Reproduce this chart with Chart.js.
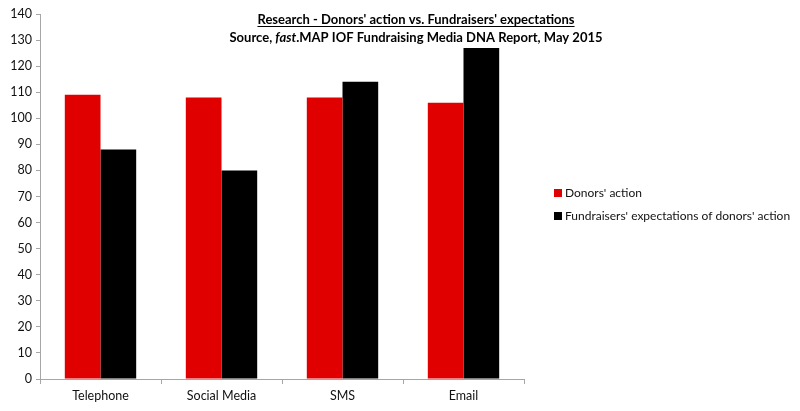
<!DOCTYPE html>
<html>
<head>
<meta charset="utf-8">
<script src="https://cdn.jsdelivr.net/npm/chart.js@4/dist/chart.umd.min.js"></script>
<style>
  body { margin: 0; background: #fff; }
  canvas { display: block; }
</style>
</head>
<body>
<canvas id="mycanvas" width="800" height="411"></canvas>
<script>
var channels = ["Telephone", "Social Media", "SMS", "Email"];
var donorsAction = [109, 108, 108, 106];
var fundraisersExpect = [88, 80, 114, 127];
var seriesNames = ["Donors' action", "Fundraisers' expectations of donors' action"];
var yTicks = [0, 140, 10]; // min, max, step
var titleLine1 = "Research - Donors' action vs. Fundraisers' expectations";
var titleLine2 = ["Source, ", "fast", ".MAP IOF Fundraising Media DNA Report, May 2015"];

var FONT = "Lato, 'Open Sans', sans-serif";

// title with underline + italic part, which the built-in title can't do
var titlePlugin = {
	id: 'titleText',
	afterDraw: function(chart) {
		var ctx = chart.ctx;
		var cx = 416;
		ctx.save();
		ctx.fillStyle = '#000';
		ctx.textBaseline = 'alphabetic';
		ctx.font = "bold 13px " + FONT;
		var w1 = ctx.measureText(titleLine1).width;
		ctx.textAlign = 'left';
		ctx.fillText(titleLine1, cx - w1 / 2, 24);
		ctx.fillRect(cx - w1 / 2, 26, w1, 1);

		var fonts = ["bold 13px " + FONT, "italic bold 13px " + FONT, "bold 13px " + FONT];
		var widths = [];
		var total = 0;
		for (var i in titleLine2) {
			ctx.font = fonts[i];
			widths.push(ctx.measureText(titleLine2[i]).width);
			total += widths[i];
		}
		var x = cx - total / 2;
		for (var j in titleLine2) {
			ctx.font = fonts[j];
			ctx.fillText(titleLine2[j], x, 42);
			x += widths[j];
		}
		ctx.restore();
	}
};

// legend off to the right, drawn from the datasets
var legendPlugin = {
	id: 'sideLegend',
	afterDraw: function(chart) {
		var ctx = chart.ctx;
		ctx.save();
		ctx.font = "12px " + FONT;
		ctx.textBaseline = 'middle';
		ctx.textAlign = 'left';
		chart.data.datasets.forEach(function(ds, i) {
			var y = 193 + i * 23;
			ctx.fillStyle = ds.backgroundColor;
			ctx.fillRect(554, y - 4, 8, 8);
			ctx.fillStyle = '#111';
			ctx.fillText(ds.label, 565, y);
		});
		ctx.restore();
	}
};

var chartdata = {
	labels: channels,
	datasets: [
		{
			label: seriesNames[0],
			backgroundColor: '#e00000',
			data: donorsAction
		},
		{
			label: seriesNames[1],
			backgroundColor: '#000000',
			data: fundraisersExpect
		}
	]
};

var ctx = document.getElementById("mycanvas");

var barGraph = new Chart(ctx, {
	type: 'bar',
	data: chartdata,
	plugins: [titlePlugin, legendPlugin],
	options: {
		responsive: false,
		animation: false,
		devicePixelRatio: 1,
		layout: { padding: { top: 14, left: 0, right: 276, bottom: 0 } },
		datasets: { bar: { categoryPercentage: 0.59, barPercentage: 1.0 } },
		plugins: {
			tooltip: { enabled: false },
			legend: { display: false }
		},
		scales: {
			x: {
				afterFit: function(s) { s.height = 32; },
				border: { color: '#a6a6a6' },
				grid: { display: true, drawOnChartArea: false, offset: true, tickLength: 5, color: '#a6a6a6' },
				ticks: { color: '#111', padding: 4, font: { family: FONT, size: 12.5 } }
			},
			y: {
				min: yTicks[0],
				max: yTicks[1],
				afterFit: function(s) { s.width = 40; },
				border: { color: '#a6a6a6' },
				grid: { display: true, drawOnChartArea: false, tickLength: 4, color: '#a6a6a6' },
				ticks: { stepSize: yTicks[2], color: '#111', padding: 4, font: { family: FONT, size: 12.5 } }
			}
		}
	}
});
</script>
</body>
</html>
